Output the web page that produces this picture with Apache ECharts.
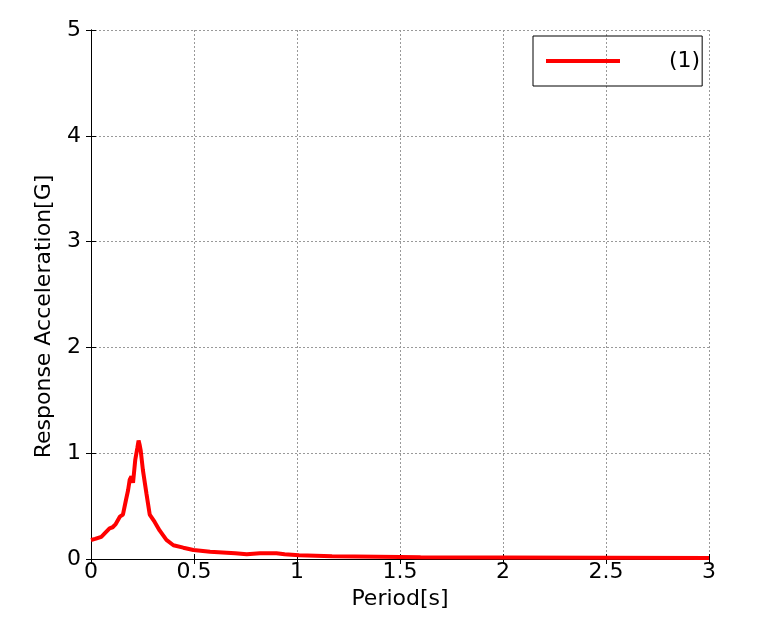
<!DOCTYPE html>
<html>
<head>
<meta charset="utf-8">
<script src="https://cdn.jsdelivr.net/npm/echarts@6/dist/echarts.min.js"></script>
<style>
html,body{margin:0;padding:0;background:#fff;}
#chart{width:781px;height:620px;}
</style>
</head>
<body>
<div id="chart"></div>
<script>
const seriesName = '(1)';
const periods = [0, 0.02, 0.05, 0.07, 0.09, 0.105, 0.12, 0.14, 0.155, 0.17, 0.18, 0.188, 0.196, 0.204, 0.215, 0.225, 0.231, 0.236, 0.241, 0.252, 0.269, 0.285, 0.309, 0.333, 0.366, 0.40, 0.448, 0.497, 0.578, 0.659, 0.70, 0.756, 0.82, 0.90, 0.94, 1.01, 1.17, 1.5, 1.6, 2.0, 2.5, 3.0];
const accel = [0.18, 0.19, 0.21, 0.25, 0.29, 0.30, 0.33, 0.40, 0.42, 0.56, 0.65, 0.75, 0.78, 0.72, 0.94, 1.05, 1.12, 1.08, 1.03, 0.84, 0.62, 0.42, 0.35, 0.27, 0.18, 0.13, 0.107, 0.085, 0.069, 0.06, 0.055, 0.044, 0.054, 0.054, 0.044, 0.035, 0.025, 0.019, 0.017, 0.014, 0.012, 0.01];
const xTitle = 'Period[s]';
const yTitle = 'Response Acceleration[G]';

const font = 'DejaVu Sans';
const chart = echarts.init(document.getElementById('chart'));
const pts = periods.map((p, i) => [p, accel[i]]);
const split = {show: true, lineStyle: {color: '#999', type: [2, 2], width: 1}};
chart.setOption({
  animation: false,
  grid: {left: 91, right: 72, top: 30, bottom: 61},
  legend: {
    data: [{name: seriesName, icon: 'rect'}],
    left: 533, top: 36,
    itemWidth: 74, itemHeight: 4,
    borderColor: '#000', borderWidth: 1,
    padding: [14, 2, 14, 13],
    textStyle: {fontFamily: font, fontSize: 22, color: '#000', padding: [0, 0, 0, 44]}
  },
  xAxis: [{
    type: 'value', min: 0, max: 3, interval: 0.5,
    name: xTitle, nameLocation: 'middle', nameGap: 22,
    nameTextStyle: {fontFamily: font, fontSize: 22, color: '#000'},
    axisLine: {lineStyle: {color: '#000'}},
    axisTick: {inside: true, length: 5, lineStyle: {color: '#000'}},
    axisLabel: {fontFamily: font, fontSize: 22, color: '#000', margin: 2},
    splitLine: split
  }, {
    type: 'value', min: 0, max: 3, interval: 0.5, position: 'top',
    axisLine: {show: true, lineStyle: {color: '#000'}},
    axisTick: {show: true, inside: true, length: 5, lineStyle: {color: '#000'}},
    axisLabel: {show: false}, splitLine: {show: false}
  }],
  yAxis: [{
    type: 'value', min: 0, max: 5, interval: 1,
    name: yTitle, nameLocation: 'middle', nameGap: 36,
    nameTextStyle: {fontFamily: font, fontSize: 22, color: '#000', padding: [0, 44, 0, 0]},
    axisLine: {show: true, lineStyle: {color: '#000'}},
    axisTick: {show: true, inside: true, length: 5, lineStyle: {color: '#000'}},
    axisLabel: {fontFamily: font, fontSize: 22, color: '#000', margin: 10},
    splitLine: split
  }, {
    type: 'value', min: 0, max: 5, interval: 1, position: 'right',
    axisLine: {show: true, lineStyle: {color: '#000'}},
    axisTick: {show: true, inside: true, length: 5, lineStyle: {color: '#000'}},
    axisLabel: {show: false}, splitLine: {show: false}
  }],
  series: [{
    name: seriesName, type: 'line', data: pts, showSymbol: false,
    lineStyle: {color: '#ff0000', width: 4}, itemStyle: {color: '#ff0000'}
  }]
});
</script>
</body>
</html>
